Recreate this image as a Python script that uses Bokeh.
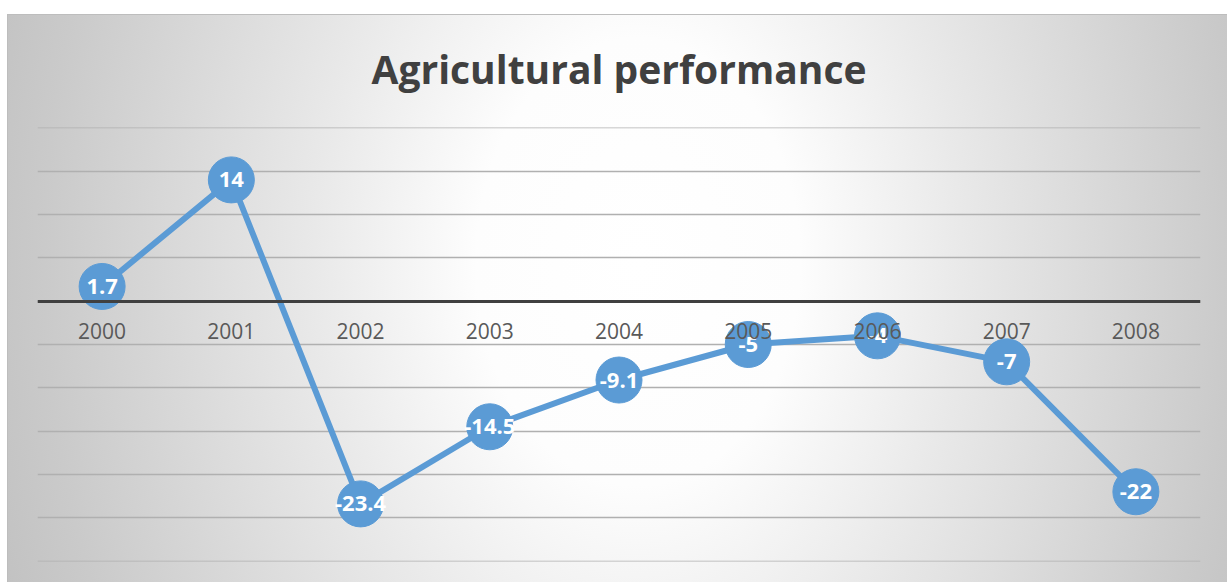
from bokeh.plotting import figure
from bokeh.models import Range1d, FactorRange, SingleIntervalTicker
from bokeh.core.properties import value
from bokeh.embed import file_html
from bokeh.resources import INLINE

years = ["2000", "2001", "2002", "2003", "2004", "2005", "2006", "2007", "2008"]
values = [1.7, 14, -23.4, -14.5, -9.1, -5, -4, -7, -22]
labels = ["1.7", "14", "-23.4", "-14.5", "-9.1", "-5", "-4", "-7", "-22"]
title_text = "Agricultural performance"

p = figure(
    width=1227, height=582,
    x_range=FactorRange(factors=years),
    y_range=Range1d(-30.05, 20.05),
    output_backend="svg", toolbar_location=None,
    min_border_left=37, min_border_right=27,
    min_border_top=127, min_border_bottom=21,
)
p.styles = {
    "background": (
        "linear-gradient(#ffffff, #ffffff) 0 0 / 100% 14px no-repeat, "
        "linear-gradient(#ffffff, #ffffff) 0 0 / 7px 100% no-repeat, "
        "linear-gradient(#bdbdbd, #bdbdbd) 7px 14px / 100% 1px no-repeat, "
        "linear-gradient(#bdbdbd, #bdbdbd) 7px 14px / 1px 100% no-repeat, "
        "radial-gradient(ellipse 55% 160% at 52% 45%, #ffffff 0%, #fdfdfd 24%, "
        "#e9e9e9 48%, #cacaca 88%, #c2c2c2 100%)"
    ),
}
p.background_fill_alpha = 0
p.border_fill_alpha = 0
p.outline_line_color = None

p.title.text = title_text
p.title.align = "center"
p.title.text_font = "Open Sans"
p.title.text_font_style = "bold"
p.title.text_font_size = "39px"
p.title.text_color = "#404040"
p.title.standoff = 66

p.yaxis.visible = False
p.ygrid.ticker = SingleIntervalTicker(interval=5)
p.ygrid.grid_line_color = "#b0b0b0"
p.ygrid.grid_line_width = 1.5
p.xgrid.visible = False

ax = p.xaxis[0]
ax.fixed_location = 0
ax.axis_line_color = "#404040"
ax.axis_line_width = 3
ax.major_tick_line_color = None
ax.minor_tick_line_color = None
ax.major_label_text_font = "Open Sans"
ax.major_label_text_font_size = "21px"
ax.major_label_text_color = "#595959"
ax.major_label_standoff = 16

p.line(years, values, line_color="#5b9bd5", line_width=6)
p.scatter(years, values, size=46, fill_color="#5b9bd5", line_color="#5b9bd5")
p.text(years, values, text=labels, text_align="center", text_baseline="middle",
       text_color="white", text_font=value("Open Sans"), text_font_style="bold",
       text_font_size="22px")

open("out.html", "w").write(file_html(p, INLINE))
